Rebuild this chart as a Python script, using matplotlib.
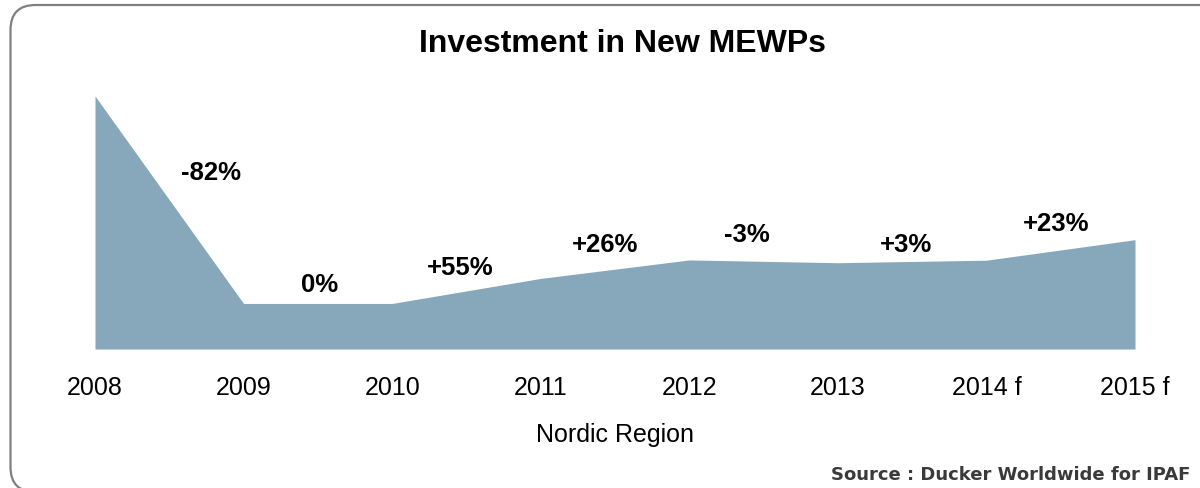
import matplotlib.pyplot as plt
from matplotlib.patches import FancyBboxPatch
from matplotlib.transforms import IdentityTransform
import numpy as np

# Investment index (2008 = 100), Nordic region
years = ['2008', '2009', '2010', '2011', '2012', '2013', '2014 f', '2015 f']
investment = [100, 18, 18, 27.9, 35.2, 34.1, 35.1, 43.2]
growth_labels = ['-82%', '0%', '+55%', '+26%', '-3%', '+3%', '+23%']

fig = plt.figure(figsize=(12, 4.89), dpi=100)
ax = fig.add_axes([95 / 1200, 139 / 489, 1040 / 1200, 253 / 489])

x = np.arange(len(years))
ax.fill_between(x, investment, 0, color='#87a7ba', linewidth=0)
ax.set_xlim(0, len(years) - 1)
ax.set_ylim(0, 100)

# growth labels sit a little above the line between each pair of years
dx = [0.28, 0.01, -0.04, -0.07, -0.11, -0.04, -0.03]
dy = [34, 7.5, 10, 10.5, 10.5, 7, 11]
for i, lab in enumerate(growth_labels):
    xp = i + 0.5 + dx[i]
    yp = np.interp(xp, x, investment) + dy[i]
    ax.text(xp, yp, lab, ha='center', va='center', fontsize=18.5,
            fontweight='bold', family='Liberation Sans')

ax.set_xticks(x)
ax.set_xticklabels(years, fontsize=18, family='Liberation Sans')
ax.tick_params(axis='x', length=0, pad=19)
ax.set_yticks([])
for s in ax.spines.values():
    s.set_visible(False)

ax.set_xlabel('Nordic Region', fontsize=18, family='Liberation Sans', labelpad=16)

fig.text(0.519, 0.91, 'Investment in New MEWPs', ha='center', va='center',
         fontsize=23, fontweight='bold', family='Liberation Sans')

fig.text(0.992, 0.028, 'Source : Ducker Worldwide for IPAF', ha='right', va='center',
         fontsize=13, fontweight='bold', color='#3a3a3a', family='DejaVu Sans')

# rounded frame around the whole chart
frame = FancyBboxPatch((10.5, -4), 1230, 487, boxstyle='round,pad=0,rounding_size=25',
                       transform=IdentityTransform(), facecolor='none',
                       edgecolor='#808080', linewidth=1.6)
fig.patches.append(frame)

fig.savefig('out.png', dpi=100)
